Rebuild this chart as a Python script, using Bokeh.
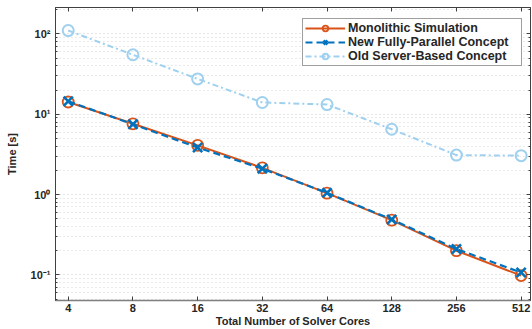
from bokeh.plotting import figure
from bokeh.models import (FixedTicker, LogAxis, PrintfTickFormatter, Range1d,
                          Legend, LegendItem, ColumnDataSource, CustomJSTickFormatter)
from bokeh.embed import file_html
from bokeh.resources import INLINE

cores = [4, 8, 16, 32, 64, 128, 256, 512]
mono = [14.2, 7.6, 4.1, 2.15, 1.04, 0.48, 0.20, 0.098]
new = [14.5, 7.5, 3.85, 2.1, 1.05, 0.49, 0.21, 0.107]
old = [110, 55, 27.5, 14.0, 13.2, 6.5, 3.1, 3.05]

x_ticks = [4, 8, 16, 32, 64, 128, 256, 512]
y_ticks = [0.1, 1, 10, 100]
y_tick_labels = {0.1: "10\u207b\u00b9", 1: "10\u2070", 10: "10\u00b9", 100: "10\u00b2"}
x_label = "Total Number of Solver Cores"
y_label = "Time [s]"
names = ["Monolithic Simulation", "New Fully-Parallel Concept", "Old Server-Based Concept"]

ORANGE = "#D95319"
BLUE = "#0072BD"
LIGHT = "#9fd0ef"
AX = "#404040"
FONT = "Liberation Sans"

minor = []
for d in [0.01, 0.1, 1, 10, 100]:
    for k in range(2, 10):
        minor.append(round(d * k, 6))

p = figure(width=532, height=329, x_axis_type="log", y_axis_type="log",
           output_backend="svg", toolbar_location=None,
           x_range=Range1d(3.49, 566), y_range=Range1d(0.048, 213),
           min_border_left=55, min_border_right=2, min_border_top=7,
           min_border_bottom=29)
p.background_fill_color = "white"
p.outline_line_color = AX
p.outline_line_width = 1

src = ColumnDataSource(dict(x=cores, mono=mono, new=new, old=old))

r_old_l = p.line("x", "old", source=src, line_color=LIGHT, line_width=2, line_dash="6 3 2 3")
r_old_m = p.scatter("x", "old", source=src, marker="circle", size=11, fill_color=None,
                    line_color=LIGHT, line_width=2)
r_mono_l = p.line("x", "mono", source=src, line_color=ORANGE, line_width=2)
r_mono_m = p.scatter("x", "mono", source=src, marker="circle", size=11, fill_color=None,
                     line_color=ORANGE, line_width=1.8)
r_new_l = p.line("x", "new", source=src, line_color=BLUE, line_width=2.2, line_dash="7 4")
r_new_m = p.scatter("x", "new", source=src, marker="x", size=13, line_color=BLUE, line_width=2.6)

for ax in p.xaxis:
    ax.ticker = FixedTicker(ticks=x_ticks, minor_ticks=[])
    ax.formatter = PrintfTickFormatter(format="%d")
    ax.axis_label = x_label
for ax in p.yaxis:
    ax.ticker = FixedTicker(ticks=y_ticks, minor_ticks=minor)
    ax.major_label_overrides = y_tick_labels
    ax.axis_label = y_label

for ax in list(p.xaxis) + list(p.yaxis):
    ax.axis_line_color = AX
    ax.major_tick_line_color = AX
    ax.minor_tick_line_color = AX
    ax.major_tick_in = 4
    ax.major_tick_out = 0
    ax.minor_tick_in = 2
    ax.minor_tick_out = 0
    ax.major_label_text_font = FONT
    ax.major_label_text_font_style = "bold"
    ax.major_label_text_font_size = "11px"
    ax.major_label_text_color = "#262626"
    ax.axis_label_text_font = FONT
    ax.axis_label_text_font_style = "bold"
    ax.axis_label_text_font_size = "11px"
    ax.axis_label_text_color = "#262626"
p.xaxis.axis_line_color = "#808080"
p.xaxis.axis_line_width = 1.5
p.xaxis.major_label_standoff = 3
p.xaxis.axis_label_standoff = 0
p.yaxis.major_label_standoff = 5
p.yaxis.axis_label_standoff = 10

blank = CustomJSTickFormatter(code="return ''")
top = LogAxis(ticker=FixedTicker(ticks=x_ticks, minor_ticks=[]), formatter=blank,
              major_tick_in=4, major_tick_out=0, minor_tick_in=0, minor_tick_out=0,
              major_label_standoff=0, axis_line_color=AX, major_tick_line_color=AX)
right = LogAxis(ticker=FixedTicker(ticks=y_ticks, minor_ticks=minor), formatter=blank,
                major_tick_in=4, major_tick_out=0, minor_tick_in=2, minor_tick_out=0,
                major_label_standoff=0, axis_line_color=AX, major_tick_line_color=AX,
                minor_tick_line_color=AX)
p.add_layout(top, "above")
p.add_layout(right, "right")

p.xgrid.grid_line_color = None
p.ygrid.grid_line_color = "#cccccc"
p.ygrid.grid_line_dash = "1 3"
p.ygrid.minor_grid_line_color = "#d4d4d4"
p.ygrid.minor_grid_line_dash = "1 3"

legend = Legend(items=[
    LegendItem(label=names[0], renderers=[r_mono_l, r_mono_m]),
    LegendItem(label=names[1], renderers=[r_new_l, r_new_m]),
    LegendItem(label=names[2], renderers=[r_old_l, r_old_m]),
], location=(247, 234))
legend.label_text_font = FONT
legend.label_text_font_style = "bold"
legend.label_text_font_size = "12.5px"
legend.label_text_color = "#262626"
legend.glyph_width = 40
legend.glyph_height = 14
legend.label_height = 13
legend.label_width = 171
legend.spacing = 0
legend.padding = 2
legend.margin = 0
legend.label_standoff = 3
legend.border_line_color = AX
legend.border_line_width = 1
legend.background_fill_alpha = 1
p.add_layout(legend)

open("out.html", "w").write(file_html(p, INLINE))
